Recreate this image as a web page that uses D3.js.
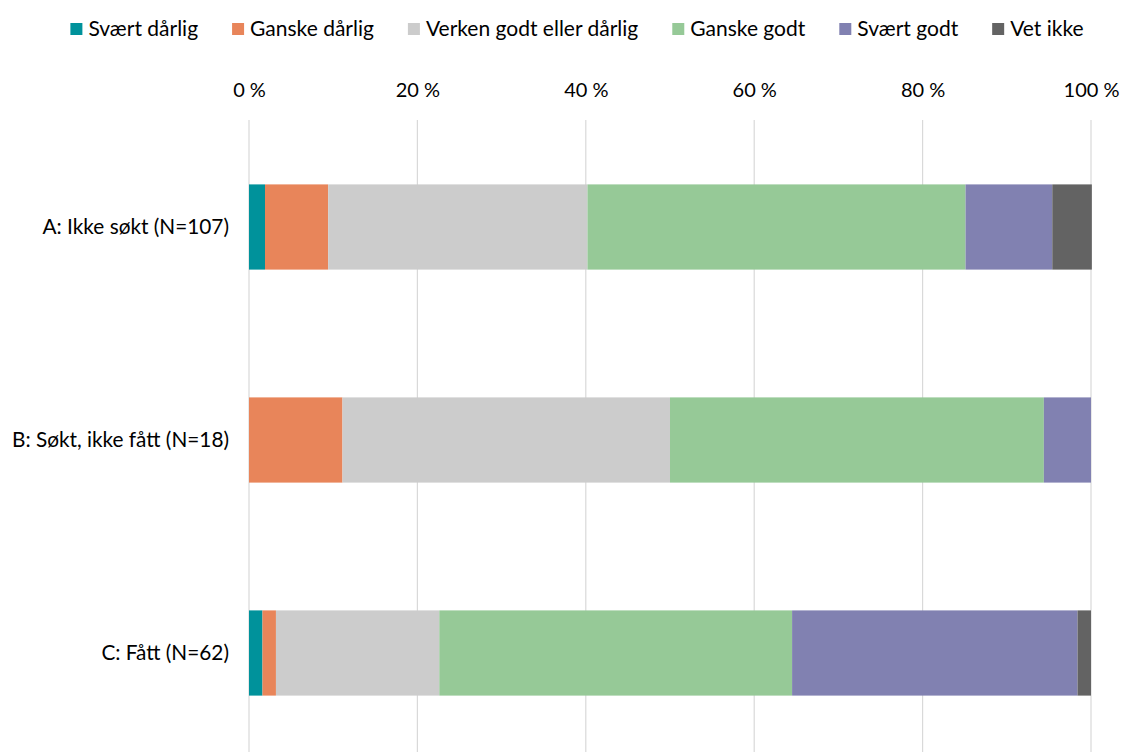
<!DOCTYPE html>
<html>
<head>
<meta charset="utf-8">
<script src="https://cdn.jsdelivr.net/npm/d3@7"></script>
<style>
  html, body { margin: 0; padding: 0; background: #fff; }
  svg { display: block; font-family: Lato, "Open Sans", sans-serif; }
</style>
</head>
<body>
<svg id="chart" width="1123" height="752"></svg>
<script>
// Response categories (stack order, left to right)
const categories = ["Svært dårlig", "Ganske dårlig", "Verken godt eller dårlig", "Ganske godt", "Svært godt", "Vet ikke"];
const colors = ["#00929B", "#E8855A", "#CCCCCC", "#96C997", "#8181B1", "#636363"];

// Groups (rows)
const groups = ["A: Ikke søkt (N=107)", "B: Søkt, ikke fått (N=18)", "C: Fått (N=62)"];

// Share (%) per category for each group
const groupA = [1.9, 7.5, 30.8, 44.9, 10.3, 4.7];
const groupB = [0.0, 11.1, 38.9, 44.4, 5.6, 0.0];
const groupC = [1.6, 1.6, 19.4, 41.9, 33.9, 1.6];

const tickValues = [0, 20, 40, 60, 80, 100];
const tickLabels = ["0 %", "20 %", "40 %", "60 %", "80 %", "100 %"];

const svg = d3.select("#chart");

const x = d3.scaleLinear().domain([0, 100]).range([249, 1091]);
const y = d3.scaleBand().domain(groups).range([120.5, 759.5]).paddingInner(0.6).paddingOuter(0.3);

// Gridlines
svg.append("g")
  .selectAll("line")
  .data(tickValues)
  .join("line")
  .attr("x1", d => x(d)).attr("x2", d => x(d))
  .attr("y1", 120).attr("y2", 752)
  .attr("stroke", "#D9D9D9")
  .attr("stroke-width", 1.2);

// Top axis labels
const xAxis = d3.axisTop(x)
  .tickValues(tickValues)
  .tickFormat((d, i) => tickLabels[i])
  .tickSize(0)
  .tickPadding(0);
const xg = svg.append("g").attr("transform", "translate(0,97)").call(xAxis);
xg.select(".domain").remove();
xg.selectAll("text").attr("font-size", 20).attr("fill", "#000").attr("font-family", "Lato, sans-serif");

// Stacked bars
const rows = [groupA, groupB, groupC].map((vals, gi) => {
  let acc = 0;
  return vals.map((v, ci) => {
    const seg = { group: groups[gi], cat: ci, x0: acc, x1: acc + v };
    acc += v;
    return seg;
  });
});

svg.append("g")
  .selectAll("g")
  .data(rows)
  .join("g")
  .selectAll("rect")
  .data(d => d.filter(s => s.x1 > s.x0))
  .join("rect")
  .attr("x", d => x(d.x0))
  .attr("width", d => x(d.x1) - x(d.x0))
  .attr("y", d => y(d.group))
  .attr("height", y.bandwidth())
  .attr("fill", d => colors[d.cat]);

// Category labels on the left
const yAxis = d3.axisLeft(y).tickSize(0).tickPadding(0);
const yg = svg.append("g").attr("transform", "translate(229,0)").call(yAxis);
yg.select(".domain").remove();
yg.selectAll("text").attr("font-size", 20.8).attr("fill", "#000").attr("font-family", "Lato, sans-serif");

// Legend
const legend = svg.append("g").attr("transform", "translate(0,29)");
const items = legend.selectAll("g").data(categories).join("g");
items.append("rect").attr("width", 12).attr("height", 12).attr("y", -6)
  .attr("fill", (d, i) => colors[i]);
items.append("text").text(d => d).attr("x", 18).attr("dy", "0.35em")
  .attr("font-size", 21).attr("fill", "#000");
const widths = [];
items.each(function () { widths.push(this.querySelector("text").getComputedTextLength()); });
const gap = 34;
const total = d3.sum(widths) + categories.length * 18 + gap * (categories.length - 1);
let cx = 577 - total / 2;
items.each(function (d, i) {
  d3.select(this).attr("transform", `translate(${cx},0)`);
  cx += 18 + widths[i] + gap;
});
</script>
</body>
</html>
